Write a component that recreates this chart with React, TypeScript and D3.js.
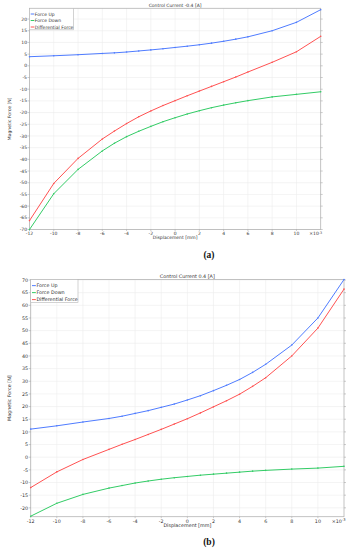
import { useMemo } from 'react';
import * as d3 from 'd3';

// displacement samples (x10^-3 mm)
const displacement = [-12, -10, -8, -6, -5, -4, -3, -2, -1, 0, 1, 2, 3, 4, 5, 6, 8, 10, 12];

// Control current -0.4 A
const upNeg = [3.9, 4.3, 4.75, 5.3, 5.55, 5.9, 6.35, 6.8, 7.3, 7.85, 8.4, 9.0, 9.7, 10.5, 11.4, 12.4, 15.0, 18.6, 24.0];
const downNeg = [-70, -54.7, -44.3, -36.4, -33.1, -30.3, -28.0, -25.9, -23.9, -22.2, -20.6, -19.2, -17.9, -16.8, -15.8, -14.9, -13.3, -12.2, -11.1];
const diffNeg = [-66.2, -50.3, -39.6, -31.3, -27.9, -24.7, -21.8, -19.3, -17.0, -14.9, -12.8, -10.8, -8.8, -6.8, -4.8, -2.65, 1.5, 6.0, 12.6];

// Control current 0.4 A
const upPos = [11.1, 12.4, 13.9, 15.3, 16.2, 17.3, 18.4, 19.7, 21.0, 22.6, 24.3, 26.3, 28.4, 30.7, 33.5, 36.7, 44.3, 55.0, 70.2];
const downPos = [-23.3, -18.2, -14.7, -12.2, -11.2, -10.2, -9.4, -8.7, -8.1, -7.6, -7.1, -6.7, -6.3, -5.9, -5.5, -5.2, -4.7, -4.3, -3.6];
const diffPos = [-12.0, -5.8, -0.9, 3.1, 5.1, 7.0, 9.0, 11.0, 13.1, 15.2, 17.5, 19.9, 22.3, 24.9, 28.0, 31.4, 40.0, 51.0, 66.4];

const seriesNames = ['Force Up', 'Force Down', 'Differential Force'];
const seriesColors = ['#4f7cff', '#33cc66', '#ff5252'];

const xTicks = [-12, -10, -8, -6, -4, -2, 0, 2, 4, 6, 8, 10];
const yTicksNeg = [20, 15, 10, 5, 0, -5, -10, -15, -20, -25, -30, -35, -40, -45, -50, -55, -60, -65, -70];
const yTicksPos = [70, 65, 60, 55, 50, 45, 40, 35, 30, 25, 20, 15, 10, 5, 0, -5, -10, -15, -20];

interface ForceChartProps {
  title: string;
  series: number[][];
  yDomain: [number, number];
  yTicks: number[];
  left: number;
  right: number;
  top: number;
  bottom: number;
  k: number;
  caption: string;
  captionY: number;
}

function ForceChart({ title, series, yDomain, yTicks, left, right, top, bottom, k, caption, captionY }: ForceChartProps) {
  const x = useMemo(() => d3.scaleLinear().domain([-12, 12]).range([left, right]), [left, right]);
  const y = useMemo(() => d3.scaleLinear().domain(yDomain).range([bottom, top]), [yDomain, top, bottom]);

  const line = d3
    .line<number>()
    .x((_, i) => x(displacement[i]))
    .y((d) => y(d));

  const fs = 4.5 * k;
  const midX = (left + right) / 2;
  const midY = (top + bottom) / 2;

  return (
    <g fontFamily="DejaVu Sans, sans-serif">
      {/* grid */}
      <g stroke="#ececec" strokeWidth={0.6}>
        {xTicks.map((t) => (
          <line key={`gx${t}`} x1={x(t)} x2={x(t)} y1={top} y2={bottom} />
        ))}
        {yTicks.map((t) => (
          <line key={`gy${t}`} x1={left} x2={right} y1={y(t)} y2={y(t)} />
        ))}
      </g>

      {/* frame + ticks */}
      <rect x={left} y={top} width={right - left} height={bottom - top} fill="none" stroke="#b4b4b4" strokeWidth={0.8} />
      <g stroke="#9a9a9a" strokeWidth={0.5}>
        {yTicks.map((t) => (
          <g key={`ty${t}`}>
            <line x1={left - 2} x2={left} y1={y(t)} y2={y(t)} />
            <line x1={right} x2={right + 2} y1={y(t)} y2={y(t)} />
          </g>
        ))}
        {xTicks.map((t) => (
          <line key={`tx${t}`} x1={x(t)} x2={x(t)} y1={bottom} y2={bottom + 1.5} />
        ))}
      </g>

      {/* series */}
      {series.map((s, i) => (
        <g key={seriesNames[i]}>
          <path d={line(s) ?? ''} fill="none" stroke={seriesColors[i]} strokeWidth={1} />
          {s.map((v, j) => (
            <circle key={j} cx={x(displacement[j])} cy={y(v)} r={0.8} fill={seriesColors[i]} />
          ))}
        </g>
      ))}

      {/* tick labels */}
      <g fontSize={fs} fill="#333">
        {yTicks.map((t) => (
          <text key={`ly${t}`} x={left - 2.5} y={y(t)} dy="0.35em" textAnchor="end">
            {t}
          </text>
        ))}
        {xTicks.map((t) => (
          <text key={`lx${t}`} x={x(t)} y={bottom + 5.8 * k} textAnchor="middle">
            {t}
          </text>
        ))}
        <text x={right + 1.5} y={bottom + 5.8 * k} textAnchor="end">
          ×10
          <tspan fontSize={fs * 0.75} dy={-1.8 * k}>
            -3
          </tspan>
        </text>
      </g>

      {/* titles */}
      <text x={midX} y={top - 1.3} fontSize={fs} textAnchor="middle" fill="#333">
        {title}
      </text>
      <text x={midX} y={bottom + 9.8 * k} fontSize={fs} textAnchor="middle" fill="#333">
        Displacement [mm]
      </text>
      <text
        transform={`translate(${10.5},${midY}) rotate(-90)`}
        fontSize={fs}
        textAnchor="middle"
        fill="#333"
      >
        Magnetic Force [N]
      </text>

      {/* legend */}
      <g transform={`translate(${left},${top})`}>
        <rect x={0} y={0} width={44 * k} height={21.5 * k} fill="#fff" stroke="#b4b4b4" strokeWidth={0.6} />
        {seriesNames.map((name, i) => {
          const ly = (5.7 + i * 6.5) * k;
          return (
            <g key={name}>
              <line x1={1.2 * k} x2={4.8 * k} y1={ly} y2={ly} stroke={seriesColors[i]} strokeWidth={1} />
              <text x={5.3 * k} y={ly} dy="0.35em" fontSize={fs} fill="#333">
                {name}
              </text>
            </g>
          );
        })}
      </g>

      {/* caption */}
      <text x={209} y={captionY} fontSize={9.5} fontWeight="bold" fontFamily="Liberation Serif, serif" textAnchor="middle" fill="#111">
        {caption}
      </text>
    </g>
  );
}

export default function App() {
  return (
    <svg width={352} height={550} style={{ position: 'absolute', left: 0, top: 0, background: '#fff' }}>
      <ForceChart
        title="Control Current -0.4 [A]"
        series={[upNeg, downNeg, diffNeg]}
        yDomain={[-70, 24.6]}
        yTicks={yTicksNeg}
        left={29.5}
        right={320.7}
        top={8.3}
        bottom={229.5}
        k={1}
        caption="(a)"
        captionY={258}
      />
      <ForceChart
        title="Control Current 0.4 [A]"
        series={[upPos, downPos, diffPos]}
        yDomain={[-23.5, 70.2]}
        yTicks={yTicksPos}
        left={30.7}
        right={344}
        top={279.5}
        bottom={516.7}
        k={1.075}
        caption="(b)"
        captionY={545}
      />
    </svg>
  );
}
